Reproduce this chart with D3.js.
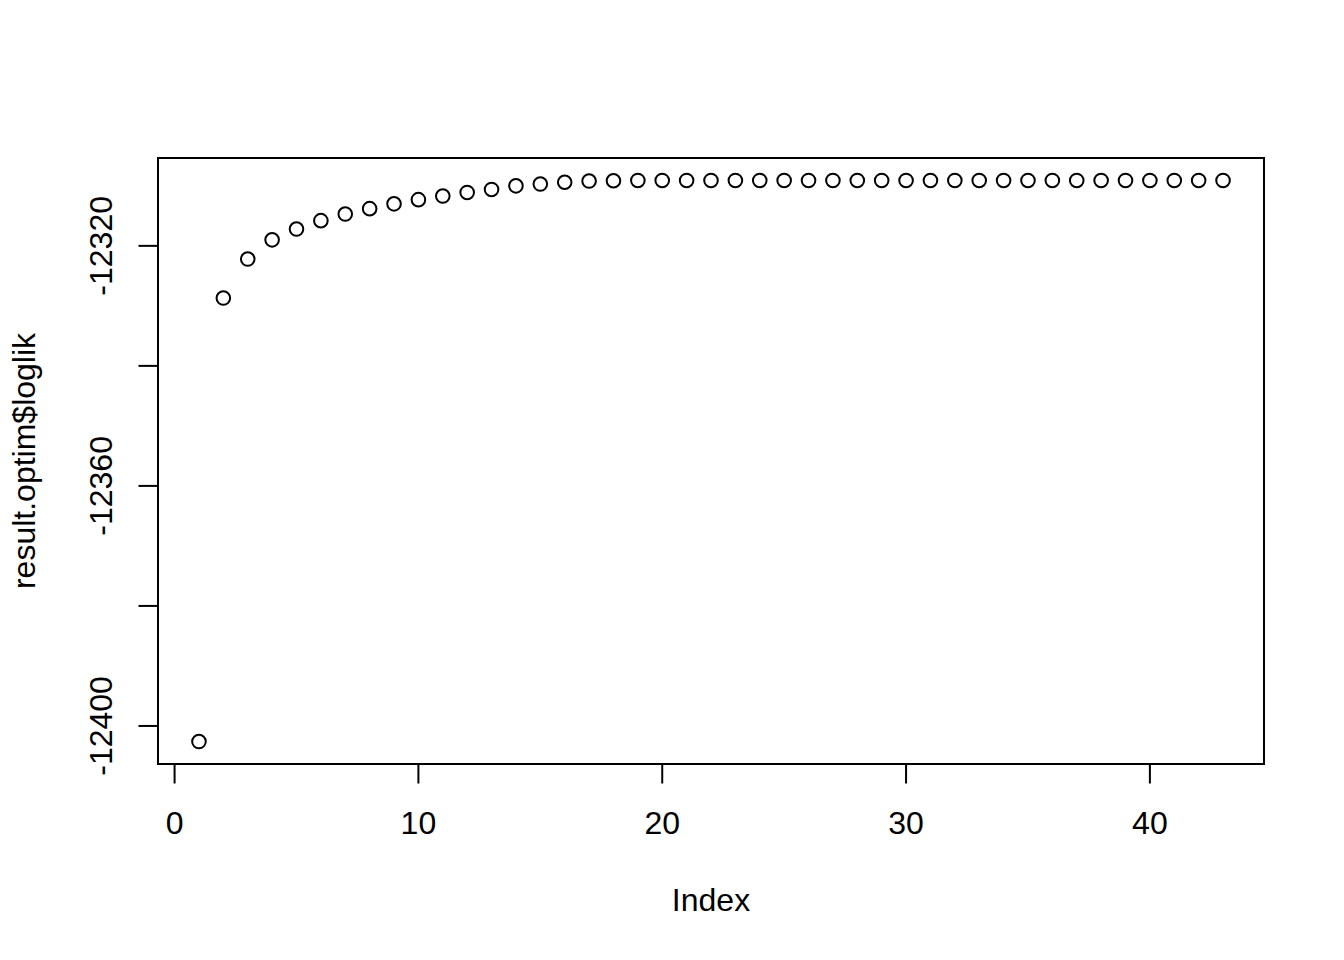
<!DOCTYPE html>
<html>
<head>
<meta charset="utf-8">
<script src="https://cdn.jsdelivr.net/npm/d3@7"></script>
<style>
  html, body { margin: 0; padding: 0; background: #ffffff; }
  svg { display: block; }
  text { font-family: "Liberation Sans", Arial, Helvetica, sans-serif; fill: #000; }
</style>
</head>
<body>
<script>
// ---- data ----
const loglik = [
  -12402.6, -12328.7, -12322.2, -12319.0, -12317.2, -12315.8, -12314.7, -12313.8,
  -12313.0, -12312.3, -12311.7, -12311.1, -12310.6, -12310.0, -12309.7, -12309.4,
  -12309.2, -12309.15, -12309.1, -12309.1, -12309.1, -12309.1, -12309.1, -12309.1,
  -12309.1, -12309.1, -12309.1, -12309.1, -12309.1, -12309.1, -12309.1, -12309.1,
  -12309.1, -12309.1, -12309.1, -12309.1, -12309.1, -12309.1, -12309.1, -12309.1,
  -12309.1, -12309.1, -12309.1
];
const xTicks = [0, 10, 20, 30, 40];
const xTickLabels = ["0", "10", "20", "30", "40"];
const yTicks = [-12400, -12380, -12360, -12340, -12320];
const yTickLabels = ["-12400", "", "-12360", "", "-12320"];
const xLabel = "Index";
const yLabel = "result.optim$loglik";

// ---- layout ----
const W = 1344, H = 960;
const plot = { left: 158, right: 1264, top: 158, bottom: 764 };
const tickLen = 19.5;
const fontSize = 32;

const pts = loglik.map((v, i) => ({ i: i + 1, v }));

function padded(ext) {
  const d = (ext[1] - ext[0]) * 0.04;
  return [ext[0] - d, ext[1] + d];
}

const x = d3.scaleLinear()
  .domain(padded(d3.extent(pts, d => d.i)))
  .range([plot.left, plot.right]);
const y = d3.scaleLinear()
  .domain(padded(d3.extent(pts, d => d.v)))
  .range([plot.bottom, plot.top]);

const svg = d3.select("body").append("svg")
  .attr("width", W).attr("height", H)
  .attr("viewBox", `0 0 ${W} ${H}`);

svg.append("rect").attr("width", W).attr("height", H).attr("fill", "#fff");

// points
svg.append("g")
  .selectAll("circle")
  .data(pts)
  .join("circle")
  .attr("cx", d => x(d.i))
  .attr("cy", d => y(d.v))
  .attr("r", 6.8)
  .attr("fill", "none")
  .attr("stroke", "#000")
  .attr("stroke-width", 2);

// x axis
const gx = svg.append("g")
  .attr("transform", `translate(0,${plot.bottom})`)
  .call(d3.axisBottom(x).tickValues(xTicks).tickSize(tickLen).offset(0)
    .tickFormat((d, i) => xTickLabels[i]));
gx.select(".domain").remove();
gx.selectAll(".tick line").attr("stroke", "#000").attr("stroke-width", 2);
gx.selectAll(".tick text")
  .attr("dy", null)
  .attr("y", 70)
  .attr("font-size", fontSize)
  .attr("font-family", null)
  .attr("fill", "#000");
gx.attr("font-family", null).attr("font-size", null);

// y axis
const gy = svg.append("g")
  .attr("transform", `translate(${plot.left},0)`)
  .call(d3.axisLeft(y).tickValues(yTicks).tickSize(tickLen).offset(0).tickFormat(() => ""));
gy.select(".domain").remove();
gy.selectAll(".tick line").attr("stroke", "#000").attr("stroke-width", 2);
gy.selectAll(".tick text").remove();
gy.attr("font-family", null).attr("font-size", null);

svg.append("g")
  .selectAll("text")
  .data(yTicks.map((t, i) => ({ t, label: yTickLabels[i] })).filter(d => d.label))
  .join("text")
  .attr("transform", d => `translate(112,${y(d.t)}) rotate(-90)`)
  .attr("text-anchor", "middle")
  .attr("font-size", fontSize)
  .text(d => d.label);

// box
svg.append("rect")
  .attr("x", plot.left).attr("y", plot.top)
  .attr("width", plot.right - plot.left)
  .attr("height", plot.bottom - plot.top)
  .attr("fill", "none")
  .attr("stroke", "#000")
  .attr("stroke-width", 2);

// axis titles
svg.append("text")
  .attr("x", (plot.left + plot.right) / 2)
  .attr("y", 910.5)
  .attr("text-anchor", "middle")
  .attr("font-size", fontSize)
  .text(xLabel);

svg.append("text")
  .attr("transform", `translate(35,${(plot.top + plot.bottom) / 2}) rotate(-90)`)
  .attr("text-anchor", "middle")
  .attr("font-size", fontSize)
  .text(yLabel);
</script>
</body>
</html>
